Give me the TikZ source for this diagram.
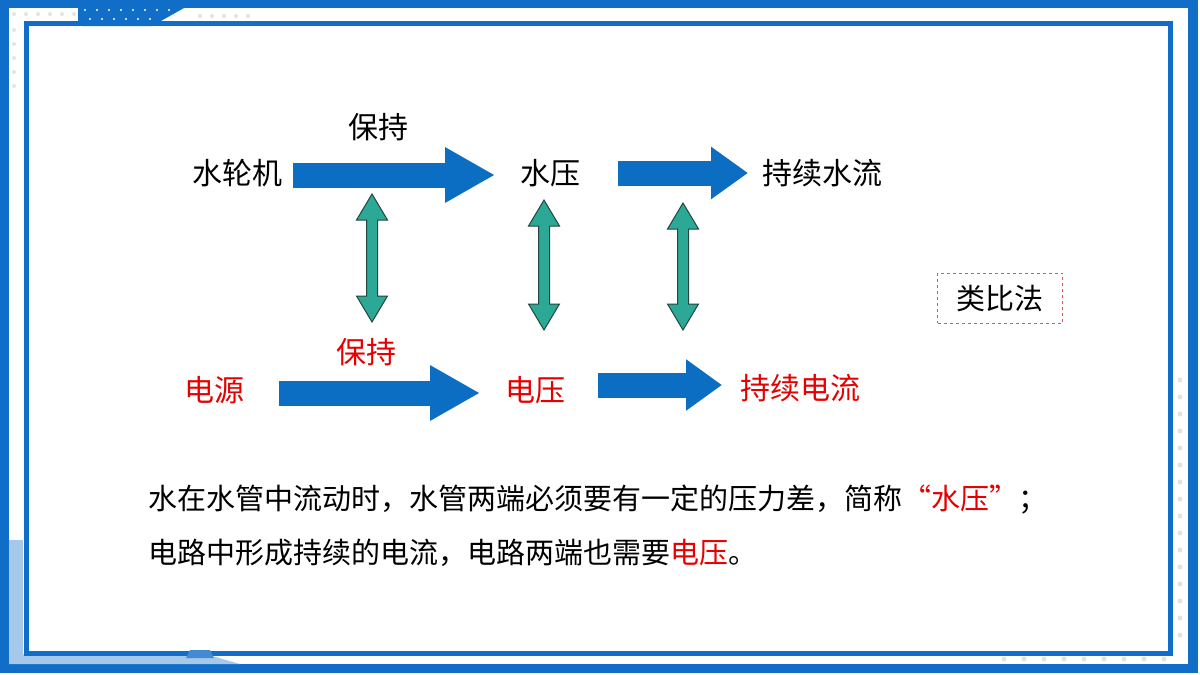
\documentclass[tikz,border=0pt]{standalone}
\usepackage{fontspec}
\setmainfont{Noto Sans CJK SC}
\usetikzlibrary{arrows.meta}

\definecolor{frameblue}{RGB}{16,110,200}
\definecolor{lightframe}{RGB}{165,200,235}
\definecolor{arrowblue}{RGB}{12,110,195}
\definecolor{tealfill}{RGB}{43,168,150}
\definecolor{tealedge}{RGB}{35,70,62}
\definecolor{hotred}{RGB}{230,0,0}
\definecolor{boxred}{RGB}{215,90,90}

\tikzset{
    lbl/.style={font=\fontsize{30}{36}\selectfont, inner sep=0pt},
    redlbl/.style={lbl, text=hotred},
    para/.style={font=\fontsize{29}{35}\selectfont, inner sep=0pt, anchor=west},
    bigarrow/.style={draw=arrowblue, line width=25pt, -{Triangle[length=#1]}},
    tealarr/.style={fill=tealfill, draw=tealedge, line width=1pt, line join=miter},
}

% teal double arrow: x, top, bottom
\newcommand{\tealarrow}[3]{%
    \draw[tealarr] (#1,#2) -- (#1+15.5,#2+26) -- (#1+5.5,#2+26) -- (#1+5.5,#3-26)
        -- (#1+15.5,#3-26) -- (#1,#3) -- (#1-15.5,#3-26) -- (#1-5.5,#3-26)
        -- (#1-5.5,#2+26) -- (#1-15.5,#2+26) -- cycle;}

\begin{document}
\begin{tikzpicture}[x=1pt, y=-1pt]
    \useasboundingbox (0,0) rectangle (1200,675);

    % ===== CORNICE =====
    \fill[frameblue] (0,0) rectangle (1198,673);
    \fill[white] (9,8) rectangle (1188,664);
    \fill[lightframe] (9,540) rectangle (23,664);
    \fill[lightframe] (9,654) -- (205,654) -- (240,664) -- (9,664) -- cycle;

    % puntini chiari
    \foreach \x in {14,26,...,74} { \fill[gray!22] (\x,14) circle (2); }
    \foreach \x in {200,212,...,256} { \fill[gray!22] (\x,16) circle (2); }
    \foreach \y in {30,44,...,86} { \fill[gray!22] (14,\y) circle (2); }
    \foreach \y in {380,397,...,650} { \fill[gray!22] (1180,\y) circle (2.5); }
    \foreach \x in {1004,1024,...,1176} { \fill[gray!22] (\x,659) circle (2.5); }

    % linguetta in alto
    \fill[frameblue] (78,8) -- (184,8) -- (152,26) -- (82,26) -- (78,22) -- cycle;
    \foreach \x in {85,97,...,175} { \fill[white] (\x,10) circle (1.2); }
    \foreach \x in {90,102,...,150} { \fill[white] (\x,19) circle (1.2); }

    % cornice interna
    \draw[frameblue, line width=5pt] (26.5,23) rectangle (1170,653);
    \fill[frameblue!80!white] (190,650) -- (210,650) -- (214,658) -- (186,658) -- cycle;

    % ===== ACQUA =====
    \node[lbl] (keepW) at (378,127) {保持};
    \node[lbl] (wheel) at (237,173) {水轮机};
    \node[lbl] (wpress) at (550,173) {水压};
    \node[lbl] (wflow) at (822,173) {持续水流};

    \coordinate (aWs) at (293,175);
    \coordinate (aWe) at (495,175);
    \coordinate (bWs) at (618,173);
    \coordinate (bWe) at (748,173);
    \draw[bigarrow={50pt, width=52pt}] (aWs) -- (aWe);
    \draw[bigarrow={37pt, width=50pt}] (bWs) -- (bWe);

    % ===== CORRISPONDENZE =====
    \tealarrow{372}{194}{322}
    \tealarrow{544}{200}{330}
    \tealarrow{683}{203}{330}

    \node[lbl, font=\fontsize{29}{35}\selectfont, draw=boxred, dashed, line width=0.6pt,
          minimum width=125pt, minimum height=50pt] (method) at (1000,298) {类比法};

    % ===== CIRCUITO =====
    \node[redlbl] (keepE) at (366,352) {保持};
    \node[redlbl] (source) at (214,390) {电源};
    \node[redlbl] (volt) at (535,390) {电压};
    \node[redlbl] (eflow) at (800,388) {持续电流};

    \coordinate (aEs) at (279,393);
    \coordinate (aEe) at (480,393);
    \coordinate (bEs) at (598,385);
    \coordinate (bEe) at (722,385);
    \draw[bigarrow={50pt, width=52pt}] (aEs) -- (aEe);
    \draw[bigarrow={36pt, width=49pt}] (bEs) -- (bEe);

    % ===== TESTO =====
    \node[para] (line1) at (148,500)
        {水在水管中流动时，水管两端必须要有一定的压力差，简称\textcolor{hotred}{“水压”}；};
    \node[para] (line2) at (148,553)
        {电路中形成持续的电流，电路两端也需要\textcolor{hotred}{电压}。};
\end{tikzpicture}
\end{document}
